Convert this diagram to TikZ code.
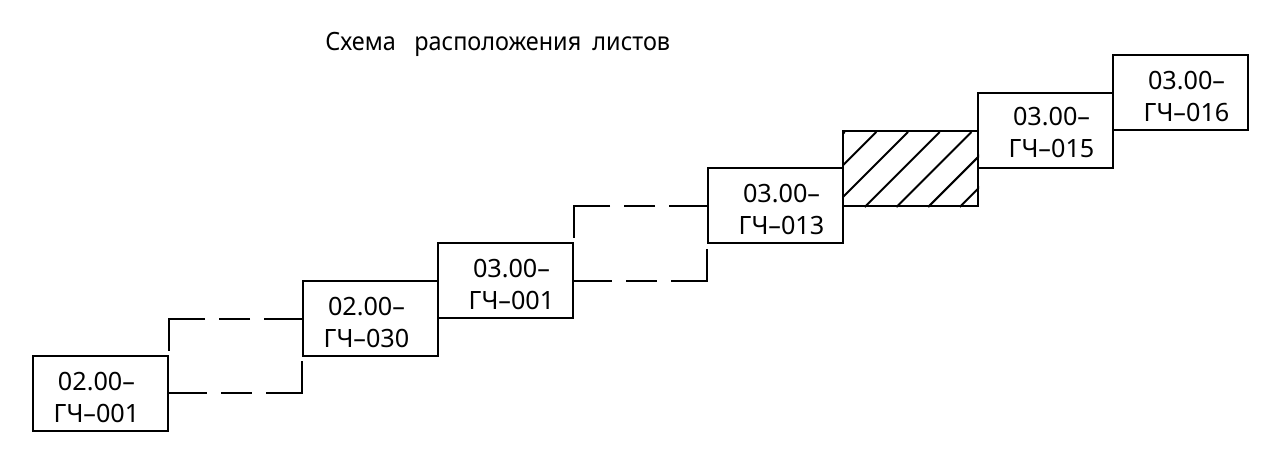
\documentclass[tikz,border=0pt]{standalone}
\usepackage{fontspec}
\setmainfont{Noto Sans}
\usetikzlibrary{calc}
\begin{document}
\begin{tikzpicture}[x=0.5pt,y=-0.5pt,
  sheet/.style={draw,line width=1pt,minimum width=67.5pt,minimum height=37.5pt,inner sep=0pt},
  code/.style={align=center,font=\fontsize{12.6}{16}\selectfont,inner sep=0pt},
  link/.style={line width=1pt,dash pattern=on 19pt off 7pt on 15.5pt off 7pt on 34pt off 20pt},
  hatch/.style={line width=1pt}]
\useasboundingbox (0,0) rectangle (1273,450);

% title
\node[anchor=base west,inner sep=0pt,font=\fontsize{12.6}{16}\selectfont] (title) at (325,50)
  {\scalebox{0.93}[1]{Схема\hspace{10pt}расположения\hspace{6pt}листов}};

% sheet frames
\node[sheet] (b1) at (100.5,393) {};
\node[sheet] (b2) at (370.5,318.5) {};
\node[sheet] (b3) at (505.5,280.5) {};
\node[sheet] (b4) at (775.5,205.5) {};
\node[sheet] (b5) at (910.5,168.5) {};
\node[sheet] (b6) at (1045.5,130.5) {};
\node[sheet] (b7) at (1180.5,92.5) {};

% sheet codes
\node[code] (t1) at ($(b1)+(-4,4)$) {02.00–\\ГЧ–001};
\node[code] (t2) at ($(b2)+(-4,4)$) {02.00–\\ГЧ–030};
\node[code] (t3) at ($(b3)+(6,4)$) {03.00–\\ГЧ–001};
\node[code] (t4) at ($(b4)+(6,4)$) {03.00–\\ГЧ–013};
\node[code] (t6) at ($(b6)+(6,2)$) {03.00–\\ГЧ–015};
\node[code] (t7) at ($(b7)+(6,4)$) {03.00–\\ГЧ–016};

% hatched sheet
\begin{scope}
  \clip (b5.south west) rectangle (b5.north east);
  \foreach \k in {-2,...,5}
    \draw[hatch] ($(b5.south west)+({-9+31.7*\k},0)$) -- ++(75,-75);
\end{scope}

% dashed gaps between sheets
\draw[link] (b2.west) -| (b1.north east);
\draw[link] (b1.east) -| (b2.south west);
\draw[link] (b4.west) -| (b3.north east);
\draw[link] (b3.east) -| (b4.south west);
\end{tikzpicture}
\end{document}
